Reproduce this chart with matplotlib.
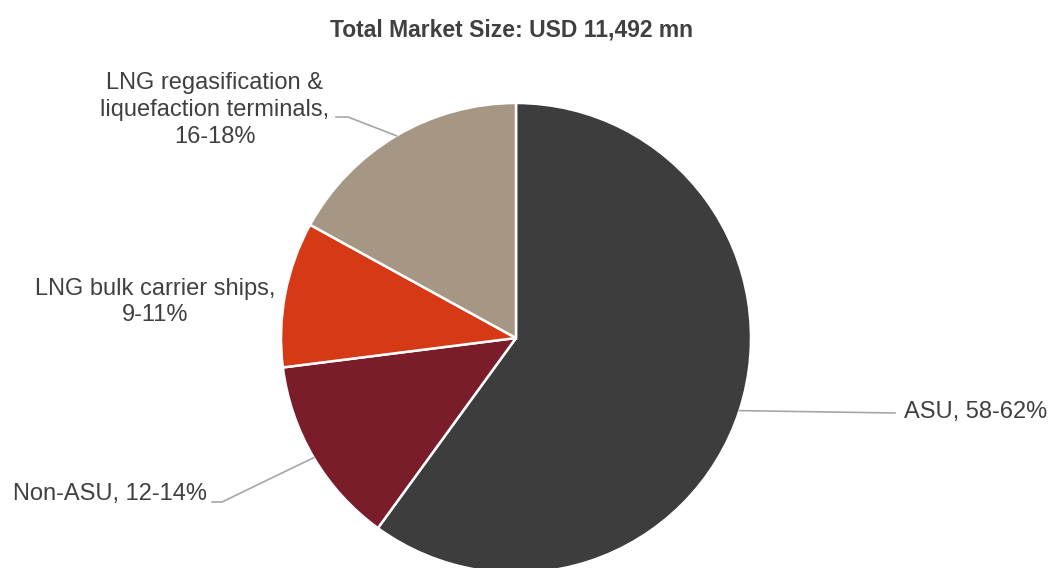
import numpy as np
import matplotlib.pyplot as plt

plt.rcParams['font.family'] = ['Liberation Sans', 'DejaVu Sans']

# market share by segment (mid-points of the ranges)
segments = ['ASU', 'Non-ASU', 'LNG bulk carrier ships',
            'LNG regasification & liquefaction terminals']
shares = [60, 13, 10, 17]
labels = ['ASU, 58-62%', 'Non-ASU, 12-14%', 'LNG bulk carrier ships,\n9-11%',
          'LNG regasification &\nliquefaction terminals,\n16-18%']
colors = ['#3d3d3d', '#7a1c2a', '#d53916', '#a69784']
title = 'Total Market Size: USD 11,492 mn'

W, H = 1051, 568
fig = plt.figure(figsize=(W / 100, H / 100), dpi=100)
ax = fig.add_axes([0, 0, 1, 1])

cx, cy, r = 516, H - 338, 235
wedges, _ = ax.pie(shares, colors=colors, startangle=90, counterclock=False,
                   center=(cx, cy), radius=r,
                   wedgeprops=dict(edgecolor='white', linewidth=1.8))
ax.set_xlim(0, W)
ax.set_ylim(0, H)
ax.set_aspect('equal')
ax.axis('off')

txt = '#404040'
line = '#a6a6a6'
fs = 17


def edge(w):
    a = np.deg2rad((w.theta1 + w.theta2) / 2)
    return cx + r * np.cos(a), cy + r * np.sin(a)


# ASU label with a long leader to the right
x0, y0 = edge(wedges[0])
ax.plot([x0, 895], [y0, H - 413], color=line, lw=1.2)
ax.text(904, H - 412, labels[0], ha='left', va='center', fontsize=fs, color=txt)

# Non-ASU label bottom left
x0, y0 = edge(wedges[1])
ax.plot([x0, 222, 212], [y0, H - 502, H - 502], color=line, lw=1.2)
ax.text(207, H - 494, labels[1], ha='right', va='center', fontsize=fs, color=txt)

# LNG bulk carrier label, no leader
ax.text(155, H - 302, labels[2], ha='center', va='center', fontsize=fs,
        color=txt, linespacing=1.27)

# regasification label top left
x0, y0 = edge(wedges[3])
ax.plot([x0, 348, 336], [y0, H - 117, H - 117], color=line, lw=1.2)
ax.text(215, H - 110, labels[3], ha='center', va='center', fontsize=fs,
        color=txt, linespacing=1.27)

ax.text(511, H - 30, title, ha='center', va='center', fontsize=16.5,
        fontweight='bold', color=txt)

fig.savefig('out.png', dpi=100)
